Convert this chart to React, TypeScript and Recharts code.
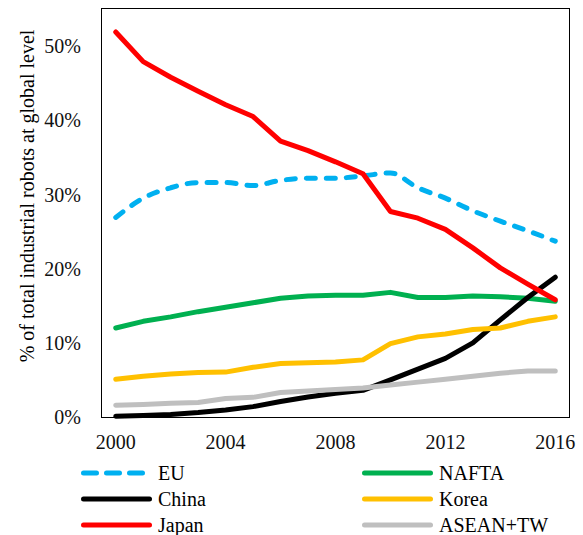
import { LineChart, Line, XAxis, YAxis } from 'recharts';

// share of total industrial robots at global level, in %
const years = [2000, 2001, 2002, 2003, 2004, 2005, 2006, 2007, 2008, 2009, 2010, 2011, 2012, 2013, 2014, 2015, 2016];
const eu = [26.9, 29.5, 30.9, 31.6, 31.6, 31.2, 31.9, 32.2, 32.2, 32.5, 32.9, 30.9, 29.5, 27.8, 26.4, 25.1, 23.7];
const nafta = [12.0, 12.9, 13.5, 14.2, 14.8, 15.4, 16.0, 16.3, 16.4, 16.4, 16.8, 16.1, 16.1, 16.3, 16.2, 16.0, 15.6];
const china = [0.1, 0.2, 0.35, 0.6, 0.95, 1.4, 2.1, 2.7, 3.2, 3.6, 5.0, 6.45, 7.9, 10.0, 13.1, 16.1, 18.85];
const korea = [5.1, 5.5, 5.8, 6.0, 6.05, 6.7, 7.2, 7.3, 7.4, 7.7, 9.9, 10.8, 11.2, 11.8, 12.0, 12.9, 13.5];
const japan = [51.9, 47.9, 45.8, 43.9, 42.1, 40.5, 37.2, 35.9, 34.4, 32.8, 27.7, 26.8, 25.3, 22.8, 20.1, 17.9, 15.8];
const asean = [1.6, 1.7, 1.85, 1.95, 2.5, 2.65, 3.3, 3.5, 3.7, 3.9, 4.3, 4.7, 5.1, 5.5, 5.9, 6.2, 6.2];

const xTicks = [2000, 2004, 2008, 2012, 2016];
const yTicks = [0, 10, 20, 30, 40, 50];
const xDomain = [1999.5, 2016.5];
const yDomain = [0, 55];

const series = [
  { key: 'EU', values: eu, color: '#00B0F0', dashed: true },
  { key: 'NAFTA', values: nafta, color: '#00B050' },
  { key: 'China', values: china, color: '#000000' },
  { key: 'Korea', values: korea, color: '#FFC000' },
  { key: 'Japan', values: japan, color: '#FF0000' },
  { key: 'ASEAN+TW', values: asean, color: '#BFBFBF' },
];

const data = years.map((year, i) => {
  const row: Record<string, number> = { year };
  series.forEach((s) => {
    row[s.key] = s.values[i];
  });
  return row;
});

const font = '"Liberation Serif", "Times New Roman", serif';
const tickStyle = { fontFamily: font, fontSize: 20, fill: '#111', stroke: 'none' };

export default function App() {
  return (
    <div style={{ position: 'absolute', left: 0, top: 0, width: 583, height: 535, background: '#fff' }}>
      <LineChart
        width={583}
        height={535}
        data={data}
        margin={{ top: 9, right: 14, bottom: 88, left: 0 }}
      >
        <XAxis
          dataKey="year"
          type="number"
          domain={xDomain}
          ticks={xTicks}
          tickLine={false}
          tickMargin={12}
          axisLine={false}
          tick={tickStyle}
          height={30}
        />
        <YAxis
          domain={yDomain}
          ticks={yTicks}
          tickFormatter={(v) => `${v}%`}
          tickLine={false}
          tickMargin={15}
          axisLine={false}
          tick={tickStyle}
          width={102}
        />
        {series.map((s) => (
          <Line
            key={s.key}
            dataKey={s.key}
            type={s.dashed ? 'monotone' : 'linear'}
            stroke={s.color}
            strokeWidth={5}
            strokeDasharray={s.dashed ? '9 11' : undefined}
            strokeLinecap="round"
            strokeLinejoin="round"
            dot={false}
            activeDot={false}
            isAnimationActive={false}
          />
        ))}
      </LineChart>

      {/* plot frame */}
      <div
        style={{
          position: 'absolute',
          left: 101,
          top: 8,
          width: 467,
          height: 408,
          border: '1.5px solid #000',
          pointerEvents: 'none',
        }}
      />

      <div
        style={{
          position: 'absolute',
          left: 27,
          top: 196,
          transform: 'translate(-50%, -50%) rotate(-90deg)',
          whiteSpace: 'nowrap',
          fontFamily: font,
          fontSize: 20,
          lineHeight: '20px',
        }}
      >
        % of total industrial robots at global level
      </div>

      <div
        style={{
          position: 'absolute',
          left: 81,
          top: 460,
          display: 'grid',
          gridTemplateColumns: '281px 200px',
          fontFamily: font,
          fontSize: 20,
          lineHeight: '26px',
        }}
      >
        {series.map((s) => (
          <div key={s.key} style={{ display: 'flex', alignItems: 'center', height: 26 }}>
            <svg width={71} height={10} style={{ marginRight: 6 }}>
              <line
                x1={2.5}
                y1={5}
                x2={68.5}
                y2={5}
                stroke={s.color}
                strokeWidth={5}
                strokeLinecap="round"
                strokeDasharray={s.dashed ? '13 10' : undefined}
              />
            </svg>
            <span>{s.key}</span>
          </div>
        ))}
      </div>
    </div>
  );
}
